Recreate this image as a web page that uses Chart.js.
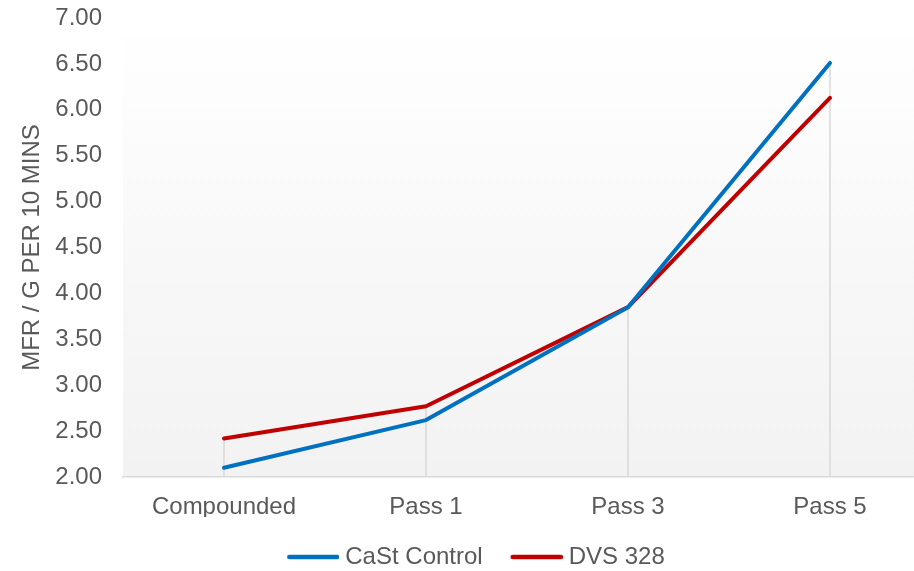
<!DOCTYPE html>
<html>
<head>
<meta charset="utf-8">
<script src="https://cdn.jsdelivr.net/npm/chart.js@4.4.0/dist/chart.umd.min.js"></script>
<style>
  html, body { margin: 0; padding: 0; overflow: hidden; background: #ffffff; }
  #wrap { width: 931px; height: 580px; }
</style>
</head>
<body>
<div id="wrap"><canvas id="c" width="931" height="580"></canvas></div>
<script>
const categories = ['Compounded', 'Pass 1', 'Pass 3', 'Pass 5'];
const castControl = [2.10, 2.62, 3.85, 6.51];
const dvs328 = [2.42, 2.77, 3.85, 6.13];
const yTicks = { min: 2, max: 7, step: 0.5 };

const FONT = "'Liberation Sans', Arial, sans-serif";
const TEXT = '#595959';
const COLORS = ['#0070c0', '#c00000'];

// Legend swatch: a short thick rounded line, placed close to its label
function lineSwatch(color) {
  const cv = document.createElement('canvas');
  cv.width = 58;
  cv.height = 8;
  const g = cv.getContext('2d');
  g.strokeStyle = color;
  g.lineWidth = 4.5;
  g.lineCap = 'round';
  g.beginPath();
  g.moveTo(8, 4);
  g.lineTo(56, 4);
  g.stroke();
  return cv;
}
const swatches = COLORS.map(lineSwatch);

// Plot area background: white fading to light grey at the base
const plotBackground = {
  id: 'plotBackground',
  beforeDraw(chart) {
    const { ctx, chartArea: a } = chart;
    const g = ctx.createLinearGradient(0, a.top, 0, a.bottom);
    g.addColorStop(0, '#ffffff');
    g.addColorStop(1, '#f2f2f2');
    ctx.save();
    ctx.fillStyle = g;
    ctx.fillRect(a.left, a.top, a.right - a.left, a.bottom - a.top);
    ctx.restore();
  }
};

// Drop lines from the highest point of each category down to the axis
const dropLines = {
  id: 'dropLines',
  beforeDatasetsDraw(chart) {
    const { ctx, scales: { x, y }, chartArea: a } = chart;
    ctx.save();
    ctx.strokeStyle = '#d9d9d9';
    ctx.lineWidth = 1.5;
    categories.forEach((c, i) => {
      const top = Math.max(...chart.data.datasets.map(d => d.data[i]));
      const px = x.getPixelForValue(i);
      ctx.beginPath();
      ctx.moveTo(px, y.getPixelForValue(top));
      ctx.lineTo(px, a.bottom);
      ctx.stroke();
    });
    ctx.restore();
  }
};

new Chart(document.getElementById('c'), {
  type: 'line',
  data: {
    labels: categories,
    datasets: [
      { label: 'CaSt Control', data: castControl, borderColor: COLORS[0], backgroundColor: COLORS[0],
        borderWidth: 4, pointRadius: 0, tension: 0, borderCapStyle: 'round', borderJoinStyle: 'round' },
      { label: 'DVS 328', data: dvs328, borderColor: COLORS[1], backgroundColor: COLORS[1],
        borderWidth: 4, pointRadius: 0, tension: 0, borderCapStyle: 'round', borderJoinStyle: 'round' }
    ]
  },
  options: {
    responsive: false,
    animation: false,
    layout: { padding: { left: 21, right: 0, top: 18, bottom: 1 } },
    plugins: {
      tooltip: { enabled: false },
      legend: {
        position: 'bottom',
        labels: {
          color: TEXT,
          font: { family: FONT, size: 24 },
          usePointStyle: true,
          pointStyleWidth: 46,
          boxHeight: 8,
          padding: 28,
          generateLabels(chart) {
            const items = Chart.defaults.plugins.legend.labels.generateLabels(chart);
            items.forEach(it => { it.pointStyle = swatches[it.datasetIndex]; });
            return items;
          }
        }
      }
    },
    scales: {
      x: {
        offset: true,
        afterFit(scale) { scale.height = 40; },
        grid: { display: false, drawTicks: false },
        border: { display: true, color: '#d9d9d9', width: 1.5 },
        ticks: { color: TEXT, font: { family: FONT, size: 24 }, padding: 16, maxRotation: 0 }
      },
      y: {
        min: yTicks.min,
        max: yTicks.max,
        afterFit(scale) { scale.width = 102; },
        grid: { display: false, drawTicks: true, tickLength: 21 },
        border: { display: false },
        ticks: {
          stepSize: yTicks.step,
          color: TEXT,
          font: { family: FONT, size: 24 },
          padding: 0,
          callback: v => Number(v).toFixed(2)
        },
        title: {
          display: true,
          text: 'MFR / G PER 10 MINS',
          color: TEXT,
          font: { family: FONT, size: 24 },
          padding: { top: -3, bottom: 0 }
        }
      }
    }
  },
  plugins: [plotBackground, dropLines]
});
</script>
</body>
</html>
